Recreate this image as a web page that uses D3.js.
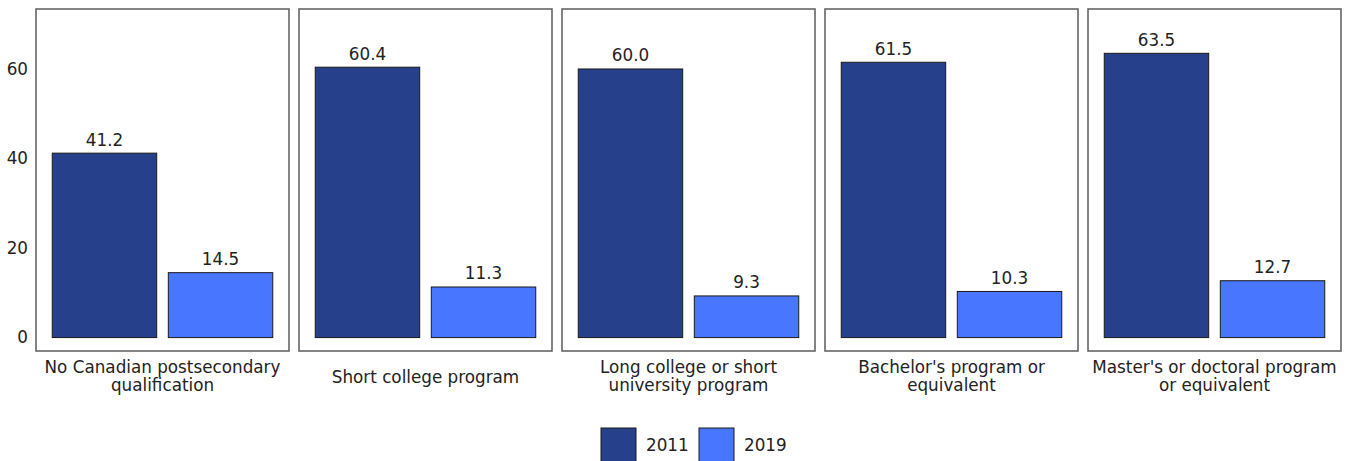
<!DOCTYPE html>
<html><head><meta charset="utf-8">
<script src="https://cdn.jsdelivr.net/npm/d3@7"></script>
<style>body{margin:0;background:#fff}svg{display:block}text{font-family:"DejaVu Sans",Verdana,sans-serif;fill:#222}</style>
</head><body><svg id="c" width="1351" height="461"></svg>
<script>
const categories = [
  ["No Canadian postsecondary", "qualification"],
  ["Short college program"],
  ["Long college or short", "university program"],
  ["Bachelor's program or", "equivalent"],
  ["Master's or doctoral program", "or equivalent"]
];
const years = ["2011", "2019"];
const values2011 = [41.2, 60.4, 60.0, 61.5, 63.5];
const values2019 = [14.5, 11.3, 9.3, 10.3, 12.7];
const yTicks = [0, 20, 40, 60];
const colors = ["#27408B", "#4876FF"];

(function () {
const svg = d3.select("#c");
const fs = 16.8;
const panelW = 253, panelStep = 263, panelLeft0 = 36, pTop = 9, pBottom = 351;
const y = d3.scaleLinear().domain([-3, 73.4]).range([pBottom, pTop]);
const x = d3.scaleBand().domain(years).range([0, panelW]).paddingInner(0.1).paddingOuter(0.14);

const yAxis = svg.append("g").attr("transform", `translate(${panelLeft0},0)`)
  .call(d3.axisLeft(y).tickValues(yTicks).tickSize(0).tickPadding(8));
yAxis.select(".domain").remove();
yAxis.selectAll("text").attr("font-size", fs).style("font-family", '"DejaVu Sans",Verdana,sans-serif').attr("fill", "#222");

categories.forEach((cat, i) => {
  const g = svg.append("g").attr("transform", `translate(${panelLeft0 + i * panelStep},0)`);
  g.append("rect").attr("x", 0).attr("y", pTop).attr("width", panelW).attr("height", pBottom - pTop)
    .attr("fill", "#fff").attr("stroke", "#666").attr("stroke-width", 1.6);
  const vals = [values2011[i], values2019[i]];
  years.forEach((yr, j) => {
    g.append("rect").attr("x", x(yr)).attr("y", y(vals[j])).attr("width", x.bandwidth())
      .attr("height", y(0) - y(vals[j])).attr("fill", colors[j]).attr("stroke", "#1a1a1a").attr("stroke-width", 1);
    g.append("text").attr("x", x(yr) + x.bandwidth() / 2).attr("y", y(vals[j]) - 7.5)
      .attr("text-anchor", "middle").attr("font-size", fs).text(vals[j].toFixed(1));
  });
  const t = g.append("text").attr("text-anchor", "middle").attr("font-size", fs);
  cat.forEach((line, k) => {
    t.append("tspan").attr("x", panelW / 2).attr("y", cat.length === 1 ? 383 : 373 + k * 18).text(line);
  });
});

const legX = [601, 699];
years.forEach((yr, j) => {
  svg.append("rect").attr("x", legX[j]).attr("y", 428).attr("width", 35).attr("height", 36)
    .attr("fill", colors[j]).attr("stroke", "#1a1a1a").attr("stroke-width", 1);
  svg.append("text").attr("x", legX[j] + 45).attr("y", 451).attr("font-size", fs).text(yr);
});
})();
</script></body></html>
